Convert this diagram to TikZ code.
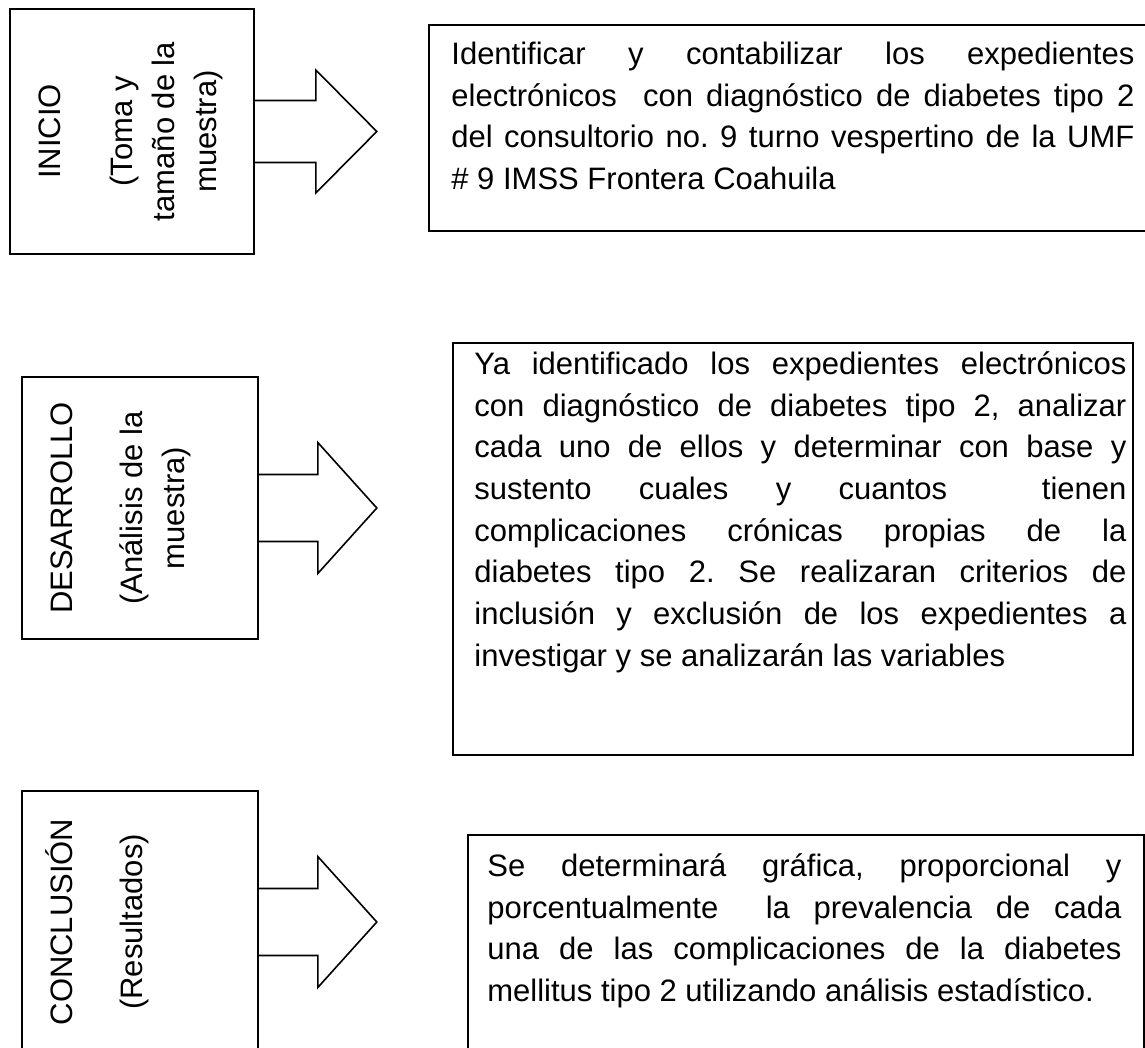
\documentclass[tikz,border=0pt]{standalone}
\usepackage{fontspec}
\setmainfont{Liberation Sans}
\tolerance=10000
\hyphenpenalty=10000
\frenchspacing
% flecha de bloque: nodo, medio cuerpo, media punta, largo
\newcommand{\flecha}[4]{\draw[borde] (#1.east) ++(0,-#2) -- ++(#4,0) -- ++(0,#2-#3) -- ++(#4,#3) -- ++(-#4,#3) -- ++(0,#2-#3) -- ++(-#4,0);}
\begin{document}
\begin{tikzpicture}[x=1pt, y=-1pt, line join=miter,
	borde/.style={line width=1.6pt},
	caja/.style={draw, borde, inner sep=0pt},
	titulo/.style={rotate=90, anchor=north, align=center, inner sep=0pt, font=\fontsize{31}{42}\selectfont},
	parrafo/.style={anchor=north west, inner sep=0pt, align=justify, font=\fontsize{31}{41.7}\selectfont}]
	\useasboundingbox (0,0) rectangle (1145,1048);
	\fill[white] (0,0) rectangle (1145,1048);
	\clip (0,0) rectangle (1145,1048);
	% columna izquierda
	\node[caja, minimum width=244pt, minimum height=245pt] (b1) at (132,131.5) {};
	\node[caja, minimum width=236pt, minimum height=262pt] (b2) at (140,508) {};
	\node[caja, minimum width=236pt, minimum height=262pt] (b3) at (140,922) {};
	\node[titulo] (e1) at ([xshift=21pt]b1.west) {\rule{0pt}{30pt}INICIO\\[30pt](Toma y\\tamaño de la\\muestra)};
	\node[titulo] (e2) at ([xshift=21pt]b2.west) {\rule{0pt}{30pt}DESARROLLO\\[28pt](Análisis de la\\muestra)};
	\node[titulo] (e3) at ([xshift=21pt]b3.west) {\rule{0pt}{30pt}CONCLUSIÓN\\[28pt](Resultados)};
	\flecha{b1}{31}{61.5}{61}
	\flecha{b2}{33.5}{65.5}{59}
	\flecha{b3}{33.5}{65.5}{59}
	% columna derecha
	\node[caja, minimum width=729pt, minimum height=206pt] (r1) at (793.5,128) {};
	\node[caja, minimum width=680pt, minimum height=412pt] (r2) at (793,549) {};
	\node[caja, minimum width=676pt, minimum height=225pt] (r3) at (806,947.5) {};
	\node[parrafo, text width=683pt] (t1) at ([shift={(23,10)}]r1.north west) {\rule{0pt}{30pt}Identificar y contabilizar los expedientes\linebreak
		electrónicos\ \ con diagnóstico de diabetes tipo 2\linebreak
		del consultorio no. 9 turno vespertino de la UMF\linebreak
		\# 9 IMSS Frontera Coahuila};
	\node[parrafo, text width=652pt] (t2) at ([shift={(22,2)}]r2.north west) {\rule{0pt}{30pt}Ya identificado los expedientes electrónicos\linebreak
		con diagnóstico de diabetes tipo 2, analizar\linebreak
		cada uno de ellos y determinar con base y\linebreak
		sustento cuales y cuantos\ \ tienen\linebreak
		complicaciones crónicas propias de la\linebreak
		diabetes tipo 2. Se realizaran criterios de\linebreak
		inclusión y exclusión de los expedientes a\linebreak
		investigar y se analizarán las variables};
	\node[parrafo, text width=634pt] (t3) at ([shift={(20,12)}]r3.north west) {\rule{0pt}{30pt}Se determinará gráfica, proporcional y\linebreak
		porcentualmente\ \ la prevalencia de cada\linebreak
		una de las complicaciones de la diabetes\linebreak
		mellitus tipo 2 utilizando análisis estadístico.};
\end{tikzpicture}
\end{document}
